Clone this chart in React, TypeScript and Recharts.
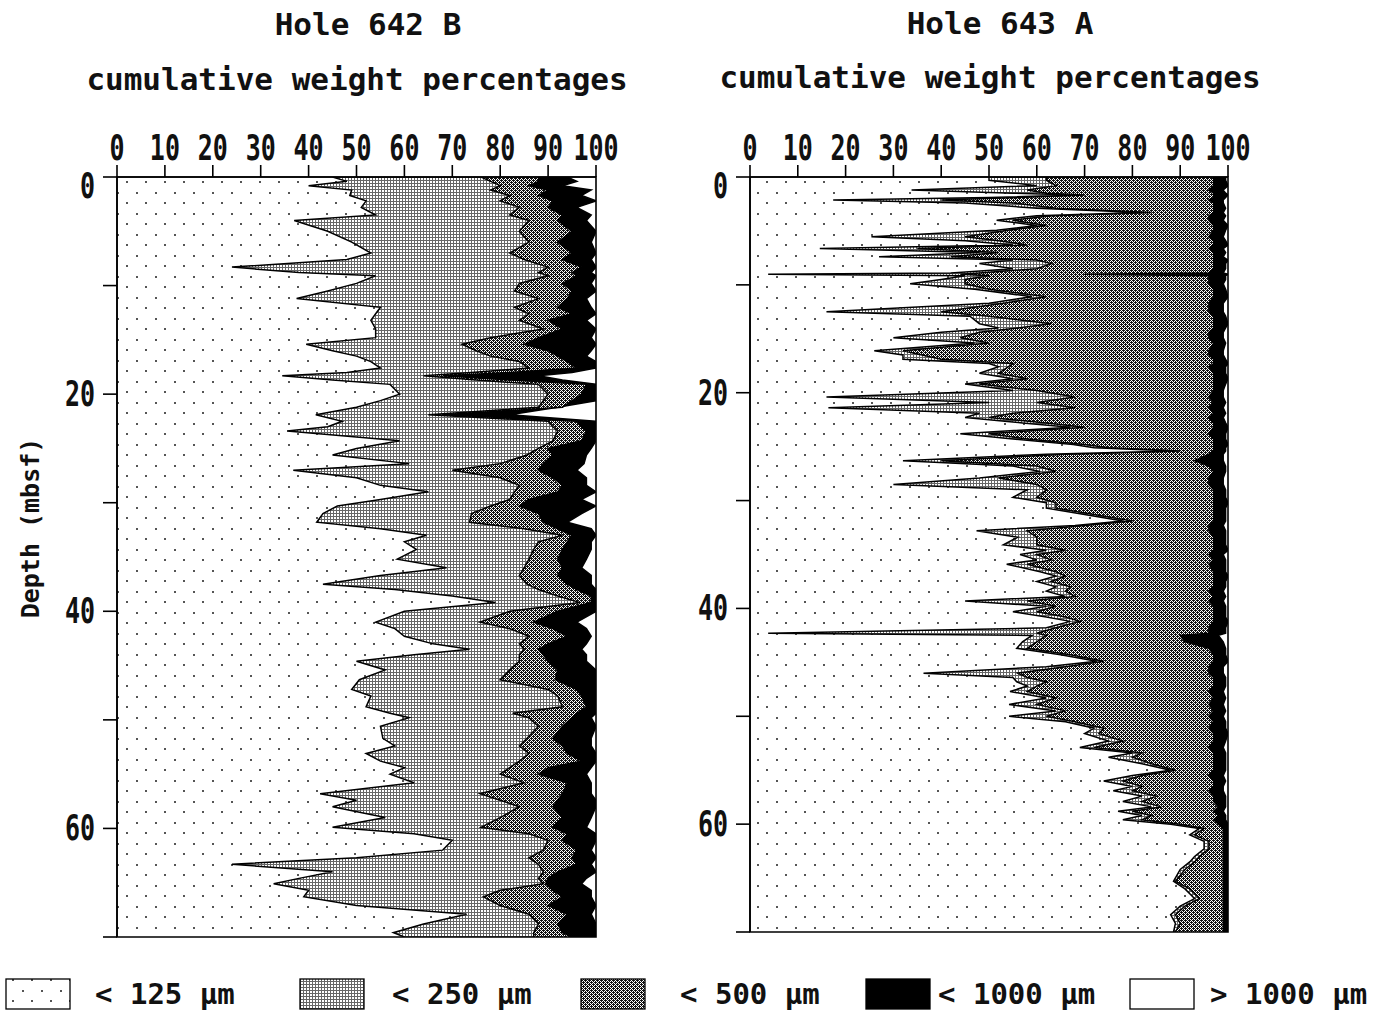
import React from 'react';
import { AreaChart, Area, XAxis, YAxis, ReferenceArea } from 'recharts';

const FONT = "'DejaVu Sans Mono', 'Liberation Mono', monospace";

// ---------- Hole 642 B (cumulative weight %) ----------
const depth642 = [
  0, 0.4, 0.8, 1.2, 1.7, 2.2, 2.8, 3.5, 4.0, 5.0,
  6.0, 7.0, 7.6, 8.3, 8.8, 9.1, 9.8, 10.5, 11.2, 12.0,
  12.6, 13.2, 14.0, 14.8, 15.4, 16.0, 16.5, 17.0, 17.6, 18.0,
  18.3, 18.7, 19.1, 20.0, 20.6, 21.2, 21.9, 22.5, 23.0, 23.4,
  24.3, 25.0, 25.6, 26.4, 27.0, 27.7, 28.4, 29.0, 29.7, 30.3,
  31.0, 31.8, 32.4, 33.0, 33.6, 34.3, 35.2, 36.0, 36.7, 37.5,
  38.0, 38.6, 39.2, 40.0, 41.0, 41.6, 42.3, 43.0, 43.5, 44.0,
  44.6, 45.4, 46.3, 47.2, 47.8, 48.8, 49.4, 49.8, 50.6, 51.7,
  52.4, 53.1, 53.8, 54.4, 55.0, 55.8, 56.8, 57.4, 58.0, 59.0,
  59.9, 60.5, 61.1, 62.0, 62.7, 63.3, 64.0, 64.6, 65.1, 65.7,
  66.3, 67.1, 67.9, 68.8, 69.6, 70.0,
];
const lt125_642 = [
  45, 48, 40, 49, 48.6, 52, 51, 54, 37, 44,
  49, 53, 48, 24, 38, 54, 50, 44, 37.5, 55,
  54, 53, 54, 54, 39.5, 45, 50, 53, 55, 48,
  34.5, 45, 57, 59, 55, 50, 41.5, 47, 44, 35.5,
  59, 50, 45, 61, 36.8, 50, 55, 65, 55, 46,
  43, 41.7, 55, 64.6, 60, 62.5, 58.5, 68.8, 55, 43,
  58, 70, 79, 60, 54, 58, 60, 66, 73.6, 62,
  50, 56, 50.6, 49, 53, 52, 57, 61, 55, 55.5,
  58, 52, 55, 60, 57, 62, 42.4, 50, 45, 56,
  45, 62, 70, 68, 50, 24, 45, 38, 32.7, 40,
  39, 50, 73, 64, 57.7, 60,
];
const lt250_642 = [
  76, 78, 80, 78, 82, 80, 84, 82, 86, 84,
  86, 82, 85, 90, 88, 90, 84, 83, 88, 83,
  86, 84, 89, 78, 72, 75, 78, 84, 86, 74,
  64, 75, 88, 90, 89, 88, 65, 90, 91, 92,
  91, 88, 85.6, 80, 70, 80, 84, 83, 82, 78,
  74, 73.6, 85, 93, 88, 87, 86, 85, 84, 85.6,
  88, 92, 96.7, 82, 75.8, 82, 86, 84, 85, 84,
  84, 82, 80, 90, 92, 93, 82.6, 86, 88, 85.6,
  84, 86, 84, 82, 80, 85, 75.8, 80, 84, 80,
  76, 86, 90, 89, 86, 88, 89, 88, 89, 80,
  76.5, 80, 86, 88, 87, 87,
];
const lt500_642 = [
  88, 88, 86, 90, 88, 91, 90, 93, 92, 95,
  92, 95, 93, 97, 95, 96, 93, 95, 94, 92,
  95, 90, 93, 88, 85, 90, 92, 94, 96, 82,
  68, 82, 98, 97, 95, 93, 68, 96, 97, 98,
  97, 90, 91, 89, 88, 91, 93, 92, 86, 84,
  88, 89, 92, 95, 94, 93, 92, 93, 92, 94,
  96, 99, 99, 92, 87, 91, 94, 90, 88, 89,
  90, 92, 91.5, 96, 97, 98, 96, 95, 93, 91,
  93, 94, 97, 90, 88, 94, 93, 92, 91, 93,
  91, 94, 93, 96, 95, 96, 92, 90, 89.5, 91,
  93, 90, 94, 92, 93, 95,
];
const lt1000_642 = [
  94, 96, 93, 99, 97, 100, 96, 99, 98, 100,
  99, 100, 99, 100, 99, 100, 99, 100, 98, 99,
  100, 98, 100, 99, 100, 99, 98, 100, 100, 95,
  88, 93, 100, 100, 100, 92, 82, 100, 100, 100,
  100, 99, 98, 97.5, 96, 98, 98, 100, 97, 100,
  97, 94, 99, 100, 99, 99, 98, 97, 99, 99,
  100, 100, 100, 100, 96, 98, 99, 98, 97, 98,
  98, 100, 100, 100, 100, 100, 100, 99, 100, 99,
  99, 100, 100, 99, 98, 99, 99, 100, 100, 99,
  98, 100, 100, 99, 100, 99, 100, 98, 97, 99,
  99, 100, 99, 100, 100, 100,
];

// ---------- Hole 643 A (cumulative weight %) ----------
const depth643 = [
  0.0, 0.3, 0.8, 1.21, 1.5, 1.67, 1.9, 2.14, 2.4, 2.9,
  3.3, 3.6, 4.0, 4.5, 4.93, 5.55, 5.9, 6.3, 6.64, 7.0,
  7.4, 7.7, 8.03, 8.5, 8.9, 9.02, 9.15, 9.5, 9.9, 10.4,
  11.1, 11.7, 12.5, 12.9, 13.6, 14.0, 14.4, 14.9, 15.4, 16.1,
  16.5, 16.9, 17.3, 17.6, 18.2, 18.7, 19.2, 19.8, 20.4, 20.9,
  21.4, 21.9, 22.3, 22.8, 23.2, 23.8, 24.3, 24.8, 25.1, 25.4,
  25.7, 26.3, 26.8, 27.3, 27.9, 28.5, 29.0, 29.7, 30.2, 30.7,
  31.3, 31.9, 32.3, 32.8, 33.4, 34.1, 34.6, 35.0, 35.5, 35.9,
  36.6, 37.0, 37.5, 38.0, 38.4, 38.9, 39.3, 39.8, 40.3, 40.8,
  41.2, 41.8, 42.3, 42.5, 43.1, 43.7, 44.3, 44.9, 45.4, 46.0,
  46.4, 46.8, 47.2, 47.7, 48.3, 48.9, 49.5, 50.0, 50.5, 51.1,
  51.6, 52.3, 52.9, 53.4, 53.8, 54.4, 55.0, 55.5, 56.0, 56.5,
  56.9, 57.4, 57.9, 58.4, 58.8, 59.2, 59.6, 60.0, 60.4, 61.0,
  61.6, 62.3, 63.0, 63.5, 64.2, 65.3, 66.0, 66.9, 67.6, 68.4,
  69.2, 70.0,
];
const lt125_643 = [
  50, 50, 60, 33.8, 55, 67.6, 50, 17.4, 45, 60,
  82, 60, 51.6, 60, 51.6, 25.4, 45, 55, 14.6, 48,
  27, 55, 48, 55, 42, 3.8, 45, 40, 33.5, 47,
  59, 50, 16, 46, 48, 52, 40, 30, 47, 26,
  32, 32, 50, 52, 48, 55, 45, 55, 16, 50,
  16.4, 48, 45, 57, 67, 44, 55, 67.6, 72, 88.6,
  62, 32, 55, 60.7, 48, 30, 58, 55, 62, 62,
  70, 78, 68, 47.4, 56, 53, 62, 56.5, 60, 53.7,
  60.7, 64, 60, 64, 62, 66, 45, 62, 55, 62,
  67, 62, 3.8, 59, 57, 55.8, 65, 72.5, 62, 36.3,
  55, 55.8, 58, 54.4, 62, 54.2, 64, 54.2, 66, 72,
  70, 75, 69, 80, 75, 82, 88, 80, 74, 80,
  76, 82, 78, 84, 77, 82, 78, 88, 94, 92,
  95, 95, 93, 92, 90, 88.6, 91, 93, 90, 88,
  89, 88.6,
];
const lt250_643 = [
  62, 62, 64, 58, 62, 70, 56, 40, 55, 64,
  84, 63, 55, 62, 54, 45, 52, 58, 35, 52,
  42, 60, 63, 60, 48, 44, 50, 45, 45, 50,
  62, 53, 40, 50, 63, 56, 48, 44, 50, 32,
  36, 40, 55, 54, 52, 58, 48, 60, 68, 60,
  68, 55, 50, 62, 70, 50, 58, 70, 75, 90,
  66, 40, 60, 64, 52, 60, 62, 60, 64, 64,
  72, 80, 70, 58, 60, 60, 66, 60, 63, 58,
  64, 66, 63, 67, 66, 68, 58, 64, 60, 66,
  69, 64, 60, 62, 60, 58, 67, 74, 66, 56,
  58, 62, 60, 58, 64, 60, 66, 62, 68, 74,
  73, 78, 72, 82, 80, 84, 89, 82, 78, 82,
  80, 85, 82, 86, 80, 84, 82, 90, 95, 93,
  96, 96, 94, 93, 91, 89, 92, 94, 91, 89,
  90, 89,
];
const lt500_643 = [
  97, 97, 97, 96, 97, 97, 97, 96, 97, 97,
  97, 96, 96, 97, 97, 96, 97, 97, 96, 97,
  97, 97, 97, 97, 96, 70, 96, 96, 96, 97,
  97, 96, 96, 97, 97, 97, 96, 96, 97, 96,
  96, 97, 97, 96, 97, 97, 97, 97, 96, 97,
  96, 97, 96, 97, 97, 96, 97, 97, 97, 97,
  96, 93, 96, 97, 96, 96, 97, 97, 97, 97,
  97, 97, 96, 96, 97, 97, 97, 96, 97, 96,
  97, 97, 97, 97, 96, 97, 96, 97, 97, 97,
  97, 96, 96, 90, 91, 96, 97, 97, 96, 96,
  97, 97, 97, 96, 97, 96, 97, 96, 97, 96,
  97, 97, 96, 97, 97, 97, 97, 96, 97, 97,
  96, 97, 97, 98, 97, 98, 97, 98, 99, 99,
  99, 99, 99, 99, 99, 99, 99, 99, 99, 99,
  99, 99,
];
const lt1000_643 = [
  99.5, 99.5, 100, 99, 99.5, 100, 99.5, 99, 99, 99.5,
  99, 99.5, 99, 100, 99.5, 99, 99.5, 100, 99, 99.5,
  99, 100, 99.5, 99.5, 99, 100, 99.5, 99.5, 99, 99.5,
  100, 99, 99, 99.5, 100, 99.5, 99, 99, 99.5, 99,
  99, 99.5, 100, 99.5, 99.5, 100, 99.5, 99, 99, 99.5,
  99, 99.5, 99, 99.5, 100, 99.5, 99.5, 100, 99.5, 99.5,
  99, 99, 99.5, 99.5, 99, 99, 99.5, 99.5, 100, 99.5,
  99.5, 99.5, 99, 99.5, 99.5, 99.5, 100, 99, 99.5, 99.5,
  99.5, 100, 99.5, 99.5, 99, 99.5, 99, 99.5, 99.5, 99.5,
  100, 99.5, 99.5, 98, 99, 99.5, 99.5, 100, 99, 99,
  99.5, 99.5, 99.5, 99, 99.5, 99, 99.5, 99, 99.5, 99.5,
  100, 99.5, 99, 99.5, 99.5, 99.5, 99.5, 99, 99.5, 99,
  99, 99.5, 99.5, 99.5, 99, 99.5, 99.5, 100, 100, 100,
  100, 100, 100, 100, 100, 100, 100, 100, 100, 100,
  100, 100,
];

// ---------- axes & legend labels ----------
const PCT_TICKS = [0, 10, 20, 30, 40, 50, 60, 70, 80, 90, 100];
const DEPTH_TICKS = [0, 10, 20, 30, 40, 50, 60, 70];
const DEPTH_LABELS = [0, 20, 40, 60];
const TITLES = ['Hole 642 B', 'Hole 643 A'];
const SUBTITLE = 'cumulative weight percentages';
const Y_TITLE = 'Depth (mbsf)';
const CLASS_LABELS = ['< 125 µm', '< 250 µm', '< 500 µm', '< 1000 µm', '> 1000 µm'];
const CLASS_FILLS = ['url(#pDots)', 'url(#pGrid)', 'url(#pCheck)', '#000', '#fff'];

const build = (d: number[], a: number[], b: number[], c: number[], e: number[]) =>
  d.map((depth, i) => ({ depth, c125: a[i], c250: b[i], c500: c[i], c1000: e[i] }));

const data642 = build(depth642, lt125_642, lt250_642, lt500_642, lt1000_642);
const data643 = build(depth643, lt125_643, lt250_643, lt500_643, lt1000_643);

const TopTick = (props: any) => {
  const { x, y, payload } = props;
  return (
    <text
      transform={`translate(${x},${y - 3}) scale(1,1.4)`}
      textAnchor="middle"
      fontFamily={FONT}
      fontSize={25}
      fontWeight="bold"
      fill="#111"
    >
      {payload.value}
    </text>
  );
};

const LeftTick = (props: any) => {
  const { x, y, payload } = props;
  if (!DEPTH_LABELS.includes(payload.value)) return <g />;
  const dy = payload.value === 0 ? 21 : 12;
  return (
    <text
      transform={`translate(${x - 6},${y + dy}) scale(1,1.4)`}
      textAnchor="end"
      fontFamily={FONT}
      fontSize={25}
      fontWeight="bold"
      fill="#111"
    >
      {payload.value}
    </text>
  );
};

const SERIES_ORDER = [
  { key: 'c1000', fill: CLASS_FILLS[3] },
  { key: 'c500', fill: CLASS_FILLS[2] },
  { key: 'c250', fill: CLASS_FILLS[1] },
  { key: 'c125', fill: CLASS_FILLS[0] },
];

function Panel({ data, margin }: { data: any[]; margin: any }) {
  return (
    <AreaChart width={620} height={960} data={data} layout="vertical" margin={margin}>
      <XAxis
        type="number"
        orientation="top"
        domain={[0, 100]}
        ticks={PCT_TICKS}
        interval={0}
        height={40}
        tickSize={12}
        axisLine={{ stroke: '#000', strokeWidth: 1.6 }}
        tickLine={{ stroke: '#000', strokeWidth: 1.6 }}
        tick={<TopTick />}
        allowDataOverflow
      />
      <YAxis
        type="number"
        dataKey="depth"
        domain={[0, 70]}
        ticks={DEPTH_TICKS}
        interval={0}
        width={60}
        tickSize={14}
        axisLine={{ stroke: '#000', strokeWidth: 1.6 }}
        tickLine={{ stroke: '#000', strokeWidth: 1.6 }}
        tick={<LeftTick />}
        allowDataOverflow
      />
      {SERIES_ORDER.map((s) => (
        <Area
          key={s.key}
          dataKey={s.key}
          type="linear"
          stroke="#000"
          strokeWidth={1.5}
          fill={s.fill}
          fillOpacity={1}
          dot={false}
          activeDot={false}
          isAnimationActive={false}
        />
      ))}
      <ReferenceArea
        x1={0}
        x2={100}
        y1={0}
        y2={70}
        fill="none"
        fillOpacity={0}
        stroke="#000"
        strokeWidth={1.6}
        ifOverflow="visible"
      />
    </AreaChart>
  );
}

const LEGEND_BOX_X = [6, 300, 581, 866, 1130];
const LEGEND_TEXT_X = [95, 392, 680, 938, 1210];
const CHECK_PIXELS = [
  [0, 0], [1, 0], [2, 0],
  [1, 1], [3, 1],
  [0, 2], [2, 2], [3, 2],
  [1, 3], [3, 3],
];

export default function App() {
  return (
    <div style={{ position: 'absolute', left: 0, top: 0, width: 1390, height: 1012, background: '#fff', overflow: 'hidden' }}>
      <svg width={1390} height={1012} style={{ position: 'absolute', left: 0, top: 0 }}>
        <defs>
          <pattern id="pDots" patternUnits="userSpaceOnUse" width={19} height={21}>
            <rect width={19} height={21} fill="#fff" />
            <rect x={3} y={3} width={2} height={2} fill="#555" />
            <rect x={12} y={13} width={2} height={2} fill="#555" />
          </pattern>
          <pattern id="pGrid" patternUnits="userSpaceOnUse" width={3} height={3}>
            <rect width={3} height={3} fill="#fff" />
            <rect x={0} y={0} width={3} height={1} fill="#666" />
            <rect x={0} y={0} width={1} height={3} fill="#666" />
          </pattern>
          <pattern id="pCheck" patternUnits="userSpaceOnUse" width={4} height={4}>
            <rect width={4} height={4} fill="#fff" />
            {CHECK_PIXELS.map(([px, py]) => (
              <rect key={`${px}-${py}`} x={px} y={py} width={1} height={1} fill="#111" />
            ))}
          </pattern>
        </defs>
        <g fontFamily={FONT} fill="#111">
          <text x={368} y={35} textAnchor="middle" fontSize={31} fontWeight="bold">{TITLES[0]}</text>
          <text x={357} y={90} textAnchor="middle" fontSize={31} fontWeight="bold">{SUBTITLE}</text>
          <text x={1000} y={34} textAnchor="middle" fontSize={31} fontWeight="bold">{TITLES[1]}</text>
          <text x={990} y={88} textAnchor="middle" fontSize={31} fontWeight="bold">{SUBTITLE}</text>
          <text transform="translate(39,528) rotate(-90)" textAnchor="middle" fontSize={25} fontWeight="bold">{Y_TITLE}</text>
          {CLASS_LABELS.map((lab, i) => (
            <g key={lab}>
              <rect x={LEGEND_BOX_X[i]} y={979} width={64} height={30} fill={CLASS_FILLS[i]} stroke="#000" strokeWidth={1.3} />
              <text x={LEGEND_TEXT_X[i]} y={1004} fontSize={29} fontWeight="bold">{lab}</text>
            </g>
          ))}
        </g>
      </svg>
      <div style={{ position: 'absolute', left: 0, top: 0 }}>
        <Panel data={data642} margin={{ top: 137, right: 24, bottom: 23, left: 57 }} />
      </div>
      <div style={{ position: 'absolute', left: 640, top: 0 }}>
        <Panel data={data643} margin={{ top: 137, right: 32, bottom: 28, left: 50 }} />
      </div>
    </div>
  );
}
